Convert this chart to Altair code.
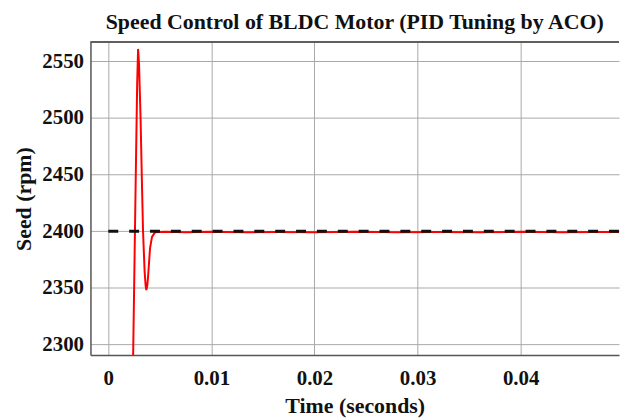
import altair as alt
import pandas as pd

# Response of the BLDC motor speed (rpm) over time (s)
time_s = [0.0021, 0.00241, 0.00265, 0.00280, 0.00289, 0.00298, 0.00313, 0.00327,
          0.00337, 0.00352, 0.00362, 0.00369, 0.00378, 0.00386, 0.00405, 0.00424,
          0.00453, 0.0055, 0.0075, 0.010, 0.013, 0.016, 0.020, 0.024, 0.028,
          0.032, 0.036, 0.040, 0.044, 0.047, 0.0496]
speed_rpm = [2096, 2290, 2440, 2530, 2561, 2548, 2500, 2440,
             2400, 2365, 2352, 2348, 2352, 2360, 2385, 2395,
             2399, 2399.5, 2399, 2399.5, 2399, 2399.3, 2399, 2399.5, 2399,
             2399.4, 2399, 2399.5, 2399, 2399.4, 2399.2]

ref_time = [0.0, 0.0496]
ref_speed = [2400, 2400]

x_ticks = [0, 0.01, 0.02, 0.03, 0.04]
y_ticks = [2300, 2350, 2400, 2450, 2500, 2550]

resp = pd.DataFrame({"t": time_s, "v": speed_rpm})
ref = pd.DataFrame({"t": ref_time, "v": ref_speed})

FONT = "Liberation Serif"
xs = alt.Scale(domain=[-0.00173, 0.04954], nice=False, zero=False)
ys = alt.Scale(domain=[2290.6, 2567], nice=False, zero=False)

x_axis = alt.Axis(values=x_ticks, title="Time (seconds)", format="~g", labelFontSize=21,
                  titleFontSize=22, labelFont=FONT, titleFont=FONT, labelFontWeight="bold",
                  titleFontWeight="bold", tickSize=0, labelPadding=13, titlePadding=7,
                  labelColor="#111111", titleColor="#111111",
                  gridColor="#a8a8a8", domainColor="#555555", domainWidth=1.5)
y_axis = alt.Axis(values=y_ticks, title="Seed (rpm)", format="d", labelFontSize=21,
                  titleFontSize=22, labelFont=FONT, titleFont=FONT, labelFontWeight="bold",
                  titleFontWeight="bold", tickSize=0, labelPadding=7, titlePadding=6,
                  labelColor="#111111", titleColor="#111111",
                  gridColor="#a8a8a8", domainColor="#555555", domainWidth=1.5)

line = alt.Chart(resp).mark_line(color="#ff0000", strokeWidth=2, clip=True).encode(
    x=alt.X("t:Q", scale=xs, axis=x_axis),
    y=alt.Y("v:Q", scale=ys, axis=y_axis),
)

dash = alt.Chart(ref).mark_line(color="#111111", strokeWidth=3, strokeDash=[10, 11],
                                clip=True).encode(
    x=alt.X("t:Q", scale=xs),
    y=alt.Y("v:Q", scale=ys),
)

top = alt.Chart(ref).mark_rule(color="#555555", strokeWidth=1.5).encode(
    x=alt.value(0), x2=alt.value(532), y=alt.value(0)
)

chart = alt.layer(line, dash, top).properties(
    width=532, height=315,
    title=alt.TitleParams("Speed Control of BLDC Motor (PID Tuning by ACO)", font=FONT,
                          fontSize=22, fontWeight="bold", offset=7, color="#111111"),
    padding={"left": 5, "top": 2, "right": 0, "bottom": 0},
).configure_view(stroke=None)

chart.save("out.html", embed_options={"renderer": "svg", "actions": False})
